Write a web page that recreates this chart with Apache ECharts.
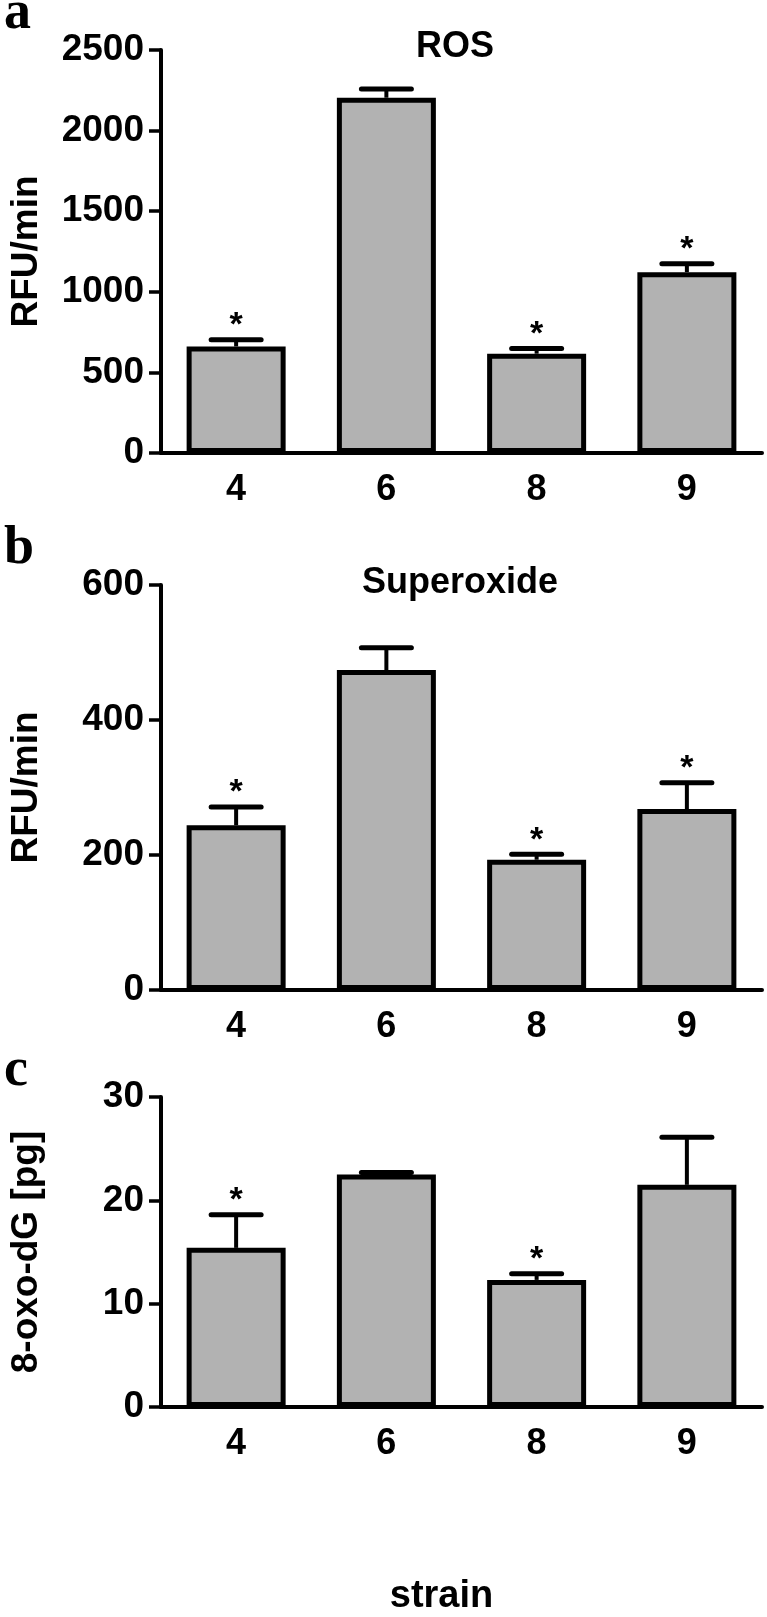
<!DOCTYPE html>
<html><head><meta charset="utf-8">
<script src="https://cdn.jsdelivr.net/npm/echarts@6/dist/echarts.min.js"></script>
<style>html,body{margin:0;padding:0;background:#fff}#c{width:767px;height:1617px}</style>
</head><body><div id="c"></div>
<script>
// ---- data ----
const strains = ['4', '6', '8', '9'];
const rosMean = [661, 2204, 616, 1122];
const rosErr  = [42, 54, 33, 52];
const rosSig  = ['*', '', '*', '*'];
const supMean = [244, 474, 193, 268];
const supErr  = [27, 33, 8, 39];
const supSig  = ['*', '', '*', '*'];
const oxoMean = [15.4, 22.5, 12.3, 21.5];
const oxoErr  = [3.2, 0.2, 0.6, 4.6];
const oxoSig  = ['*', '', '*', ''];
const panelTitles = ['ROS', 'Superoxide', ''];
const yNames = ['RFU/min', 'RFU/min', '8-oxo-dG [pg]'];
const yMax = [2500, 600, 30];
const yStep = [500, 200, 10];
const xName = 'strain';
const panelLetters = ['a', 'b', 'c'];

// ---- layout ----
const FONT = '"Liberation Sans", Arial, sans-serif';
const grids = [
  {left: 155, width: 607, top: 50, height: 403},
  {left: 155, width: 607, top: 585, height: 405},
  {left: 155, width: 607, top: 1097, height: 360}
];
const means = [rosMean, supMean, oxoMean];
const errs = [rosErr, supErr, oxoErr];
const sigs = [rosSig, supSig, oxoSig];

function makeErr(sig) {
  return function (params, api) {
    const i = api.value(0);
    const pTop = api.coord([i, api.value(1)]);
    const pCap = api.coord([i, api.value(2)]);
    const children = [
      {type: 'line', shape: {x1: pTop[0], y1: pTop[1], x2: pCap[0], y2: pCap[1]},
       style: {stroke: '#000', lineWidth: 4}},
      {type: 'line', shape: {x1: pCap[0] - 25, y1: pCap[1], x2: pCap[0] + 25, y2: pCap[1]},
       style: {stroke: '#000', lineWidth: 5, lineCap: 'round'}}
    ];
    if (sig[i]) {
      children.push({type: 'text', x: pCap[0], y: pCap[1] - 14,
        style: {text: sig[i], fontSize: 34, fontWeight: 'bold', fontFamily: FONT, fill: '#000',
                 align: 'center', verticalAlign: 'middle'}});
    }
    return {type: 'group', children: children};
  };
}

const xAxes = [], yAxes = [], series = [];
for (let k = 0; k < 3; k++) {
  xAxes.push({
    gridIndex: k, type: 'category', data: strains,
    axisLine: {lineStyle: {color: '#000', width: 4}},
    axisTick: {alignWithLabel: true, length: 12, lineStyle: {color: '#000', width: 3.5}},
    axisLabel: {color: '#000', fontSize: 36, fontWeight: 'bold', fontFamily: FONT, margin: 19},
    name: k === 2 ? xName : '', nameLocation: 'middle', nameGap: 171,
    nameTextStyle: {color: '#000', fontSize: 38, fontWeight: 'bold', fontFamily: FONT, padding: [0, 40, 0, 0]}
  });
  yAxes.push({
    gridIndex: k, type: 'value', min: 0, max: yMax[k], interval: yStep[k],
    splitLine: {show: false},
    axisLine: {show: true, lineStyle: {color: '#000', width: 4}},
    axisTick: {show: true, length: 12, lineStyle: {color: '#000', width: 3.5}},
    axisLabel: {color: '#000', fontSize: 37, fontWeight: 'bold', fontFamily: FONT, margin: 17,
                formatter: function (v) { return String(v); }},
    name: yNames[k], nameLocation: 'middle', nameGap: 116,
    nameTextStyle: {color: '#000', fontSize: 37, fontWeight: 'bold', fontFamily: FONT}
  });
  series.push({
    type: 'bar', xAxisIndex: k, yAxisIndex: k, data: means[k], barWidth: 99,
    itemStyle: {color: '#b2b2b2', borderColor: '#000', borderWidth: 5}
  });
  series.push({
    type: 'custom', xAxisIndex: k, yAxisIndex: k, clip: false, z: 5,
    renderItem: makeErr(sigs[k]),
    data: means[k].map((m, i) => [i, m, m + errs[k][i]])
  });
}

const graphics = [];
const titleY = [47, 583];
const titleX = [455, 460];
for (let k = 0; k < 2; k++) {
  graphics.push({type: 'text', x: titleX[k], y: titleY[k],
    style: {text: panelTitles[k], fontSize: 36, fontWeight: 'bold', fontFamily: FONT, fill: '#000',
            align: 'center', verticalAlign: 'middle'}});
}
const letterY = [14, 549, 1071];
for (let k = 0; k < 3; k++) {
  graphics.push({type: 'text', x: 4, y: letterY[k],
    style: {text: panelLetters[k], fontSize: 54, fontWeight: 'bold',
            fontFamily: '"Liberation Serif", "Times New Roman", serif', fill: '#000',
            align: 'left', verticalAlign: 'middle'}});
}

const chart = echarts.init(document.getElementById('c'), null, {renderer: 'canvas'});
chart.setOption({
  animation: false,
  backgroundColor: '#fff',
  grid: grids,
  xAxis: xAxes,
  yAxis: yAxes,
  series: series,
  graphic: graphics
});
</script>
</body></html>
